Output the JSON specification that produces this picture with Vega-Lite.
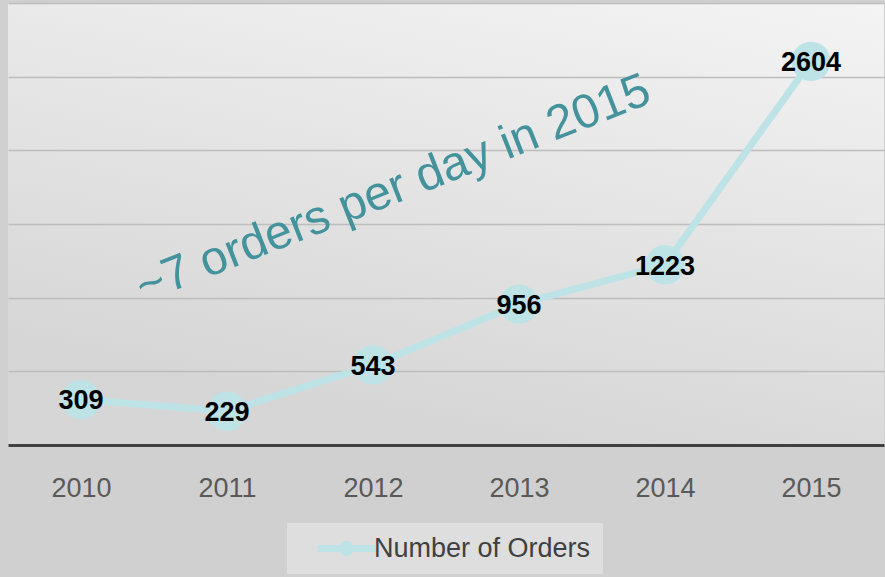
{
  "$schema": "https://vega.github.io/schema/vega-lite/v6.json",
  "width": 876,
  "height": 442,
  "autosize": {"type": "none"},
  "padding": {"left": 8, "top": 3, "right": 1, "bottom": 132},
  "background": "#d0d0d0",
  "config": {
    "view": {
      "stroke": null,
      "fill": {
        "gradient": "linear",
        "x1": 1, "y1": 0, "x2": 0.6, "y2": 1,
        "stops": [
          {"offset": 0, "color": "#f4f4f4"},
          {"offset": 1, "color": "#d6d6d6"}
        ]
      }
    },
    "font": "Liberation Sans, Arial, sans-serif"
  },
  "datasets": {
    "orders": [
      {"year": 2010, "orders": 309},
      {"year": 2011, "orders": 229},
      {"year": 2012, "orders": 543},
      {"year": 2013, "orders": 956},
      {"year": 2014, "orders": 1223},
      {"year": 2015, "orders": 2604}
    ],
    "note": [
      {"year": 2012.14, "orders": 1735, "text": "~7 orders per day in 2015"}
    ]
  },
  "layer": [
    {
      "data": {"name": "orders"},
      "mark": {"type": "line", "strokeWidth": 7, "color": "#bde3e6"},
      "encoding": {
        "x": {
          "field": "year", "type": "quantitative",
          "scale": {"domain": [2009.5, 2015.5], "nice": false, "zero": false},
          "axis": {
            "values": [2010, 2011, 2012, 2013, 2014, 2015],
            "format": "d", "title": null, "grid": false, "ticks": false,
            "domainColor": "#404040", "domainWidth": 3,
            "labelFont": "Liberation Sans, Arial",
            "labelFontSize": 27, "labelColor": "#595959", "labelPadding": 30
          }
        },
        "y": {
          "field": "orders", "type": "quantitative",
          "scale": {"domain": [0, 3000], "nice": false},
          "axis": {
            "values": [500, 1000, 1500, 2000, 2500, 3000],
            "title": null, "labels": false, "ticks": false, "domain": false,
            "grid": true, "gridColor": "#bdbdbd", "gridWidth": 1.5
          }
        }
      }
    },
    {
      "data": {"name": "orders"},
      "mark": {"type": "point", "filled": true, "size": 1550, "opacity": 1, "strokeWidth": 0},
      "encoding": {
        "x": {"field": "year", "type": "quantitative"},
        "y": {"field": "orders", "type": "quantitative"},
        "color": {
          "datum": "Number of Orders",
          "scale": {"domain": ["Number of Orders"], "range": ["#bde3e6"]},
          "legend": {
            "title": null,
            "orient": "none",
            "legendX": 279,
            "legendY": 520,
            "fillColor": "#dedede",
            "padding": 12,
            "symbolType": "M0.45,-0.3H5.45V0.3H0.45Z M2.3,0A0.65,0.65 0 1,1 3.6,0A0.65,0.65 0 1,1 2.3,0Z",
            "symbolSize": 538,
            "symbolFillColor": "#bde3e6",
            "symbolStrokeWidth": 0,
            "symbolOpacity": 1,
            "labelOffset": 48,
            "labelFont": "Liberation Sans, Arial",
            "labelFontSize": 27,
            "labelColor": "#404040",
            "labelLimit": 400
          }
        }
      }
    },
    {
      "data": {"name": "orders"},
      "mark": {
        "type": "text", "fontWeight": "bold", "fontSize": 27, "color": "#000000",
        "font": "Liberation Sans, Arial",
        "align": "center", "baseline": "middle", "dy": 2
      },
      "encoding": {
        "x": {"field": "year", "type": "quantitative"},
        "y": {"field": "orders", "type": "quantitative"},
        "text": {"field": "orders", "type": "quantitative", "format": "d"}
      }
    },
    {
      "data": {"name": "note"},
      "mark": {
        "type": "text", "fontSize": 48, "color": "#44939c", "angle": -21.5,
        "font": "Liberation Sans, Arial, sans-serif",
        "align": "center", "baseline": "middle"
      },
      "encoding": {
        "x": {"field": "year", "type": "quantitative"},
        "y": {"field": "orders", "type": "quantitative"},
        "text": {"field": "text", "type": "nominal"}
      }
    }
  ]
}
